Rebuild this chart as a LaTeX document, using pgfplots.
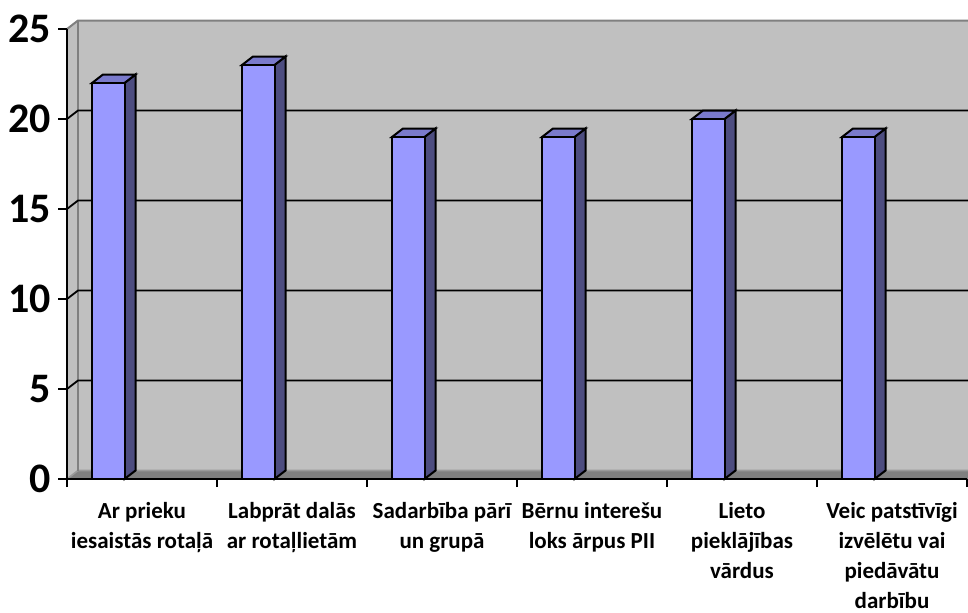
\documentclass[border=0pt]{standalone}
\usepackage{fontspec}
\setmainfont{Carlito}
\usepackage{pgfplots}
\usepackage{pgfplotstable}
\pgfplotsset{compat=1.18}
\definecolor{wallc}{HTML}{C0C0C0}
\definecolor{edgec}{HTML}{808080}
\definecolor{floorc}{HTML}{808080}
\definecolor{flooredge}{HTML}{9A9A9A}
\definecolor{frontc}{HTML}{9999FF}
\definecolor{topc}{HTML}{7A7ACC}
\definecolor{sidec}{HTML}{4D4D80}

\pgfplotstableread{
x v
1 22
2 23
3 19
4 19
5 20
6 19
}\datatable

\begin{document}
\begin{tikzpicture}
\useasboundingbox (-33.5pt,-66.5pt) rectangle (450.5pt,239.5pt);
\begin{axis}[
  at={(0pt,0pt)}, anchor=south west,
  x=75pt, y=9pt,
  xmin=0.5, xmax=6.5, ymin=0, ymax=25,
  axis lines*=left,
  axis line style={black, line width=1pt},
  axis on top,
  clip=false,
  ytick={0,5,...,25},
  xtick={1,...,6},
  minor xtick={0.5,1.5,...,6.5},
  xticklabels={
    {\strut Ar prieku\\iesaistās rotaļā},
    {\strut Labprāt dalās\\ar rotaļlietām},
    {\strut Sadarbība pārī\\un grupā},
    {\strut Bērnu interešu\\loks ārpus PII},
    {\strut Lieto\\pieklājības\\vārdus},
    {\strut Veic patstīvīgi\\izvēlētu vai\\piedāvātu\\darbību}},
  major x tick style={draw=none},
  tick align=outside,
  major tick length=4.5pt,
  minor tick length=4pt,
  tick style={black, line width=1pt},
  /pgf/number format/assume math mode=true,
  yticklabel style={font=\fontsize{21pt}{25pt}\selectfont\bfseries, inner sep=0pt, xshift=-3.5pt},
  xticklabel style={font=\fontsize{11.5pt}{15pt}\selectfont\bfseries, align=center, inner sep=0pt, yshift=-4.6pt},
  every axis plot/.append style={line width=1pt, draw=black, line join=miter},
]
% back wall
\fill[wallc] ([shift={(5.5pt,4.25pt)}]axis cs:0.5,0) rectangle ([shift={(8pt,4.25pt)}]axis cs:6.5,25);
% left side wall
\fill[wallc] (axis cs:0.5,0) -- ++(5.5pt,4.25pt) -- ([shift={(5.5pt,4.25pt)}]axis cs:0.5,25) -- (axis cs:0.5,25) -- cycle;
% floor
\fill[floorc] (axis cs:0.5,0) -- ++(5.5pt,4.25pt) -- ([shift={(8pt,4.25pt)}]axis cs:6.5,0) -- ([shift={(8pt,0pt)}]axis cs:6.5,0) -- cycle;
\draw[flooredge, line width=0.8pt] (axis cs:0.5,0) -- ++(5.5pt,4.25pt) -- ([shift={(8pt,4.25pt)}]axis cs:6.5,0);
% wall edges
\draw[edgec, line width=1pt] (axis cs:0.5,25) -- ++(5.5pt,4.25pt) -- ([shift={(8pt,4.25pt)}]axis cs:6.5,25);
\draw[edgec, line width=0.8pt] ([shift={(5.5pt,4.25pt)}]axis cs:0.5,0) -- ([shift={(5.5pt,4.25pt)}]axis cs:0.5,25);
% grid lines
\pgfplotsinvokeforeach{5,10,15,20}{
  \draw[black, line width=0.9pt] (axis cs:0.5,#1) -- ++(5.5pt,4.25pt) -- ([shift={(8pt,4.25pt)}]axis cs:6.5,#1);
}
% side faces of the bars
\addplot[fill=sidec] coordinates {(0.88333,0) (0.95667,0.47222) (0.95667,22.47222) (0.88333,22)} -- cycle;
\addplot[fill=sidec] coordinates {(1.88333,0) (1.95667,0.47222) (1.95667,23.47222) (1.88333,23)} -- cycle;
\addplot[fill=sidec] coordinates {(2.88333,0) (2.95667,0.47222) (2.95667,19.47222) (2.88333,19)} -- cycle;
\addplot[fill=sidec] coordinates {(3.88333,0) (3.95667,0.47222) (3.95667,19.47222) (3.88333,19)} -- cycle;
\addplot[fill=sidec] coordinates {(4.88333,0) (4.95667,0.47222) (4.95667,20.47222) (4.88333,20)} -- cycle;
\addplot[fill=sidec] coordinates {(5.88333,0) (5.95667,0.47222) (5.95667,19.47222) (5.88333,19)} -- cycle;
% top faces of the bars
\addplot[fill=topc] coordinates {(0.66667,22) (0.74,22.47222) (0.95667,22.47222) (0.88333,22)} -- cycle;
\addplot[fill=topc] coordinates {(1.66667,23) (1.74,23.47222) (1.95667,23.47222) (1.88333,23)} -- cycle;
\addplot[fill=topc] coordinates {(2.66667,19) (2.74,19.47222) (2.95667,19.47222) (2.88333,19)} -- cycle;
\addplot[fill=topc] coordinates {(3.66667,19) (3.74,19.47222) (3.95667,19.47222) (3.88333,19)} -- cycle;
\addplot[fill=topc] coordinates {(4.66667,20) (4.74,20.47222) (4.95667,20.47222) (4.88333,20)} -- cycle;
\addplot[fill=topc] coordinates {(5.66667,19) (5.74,19.47222) (5.95667,19.47222) (5.88333,19)} -- cycle;
% front faces of the bars
\addplot[ybar, bar width=16.25pt, bar shift=-16.875pt, fill=frontc]
  table[x=x,y=v]{\datatable};
\end{axis}
\end{tikzpicture}
\end{document}
